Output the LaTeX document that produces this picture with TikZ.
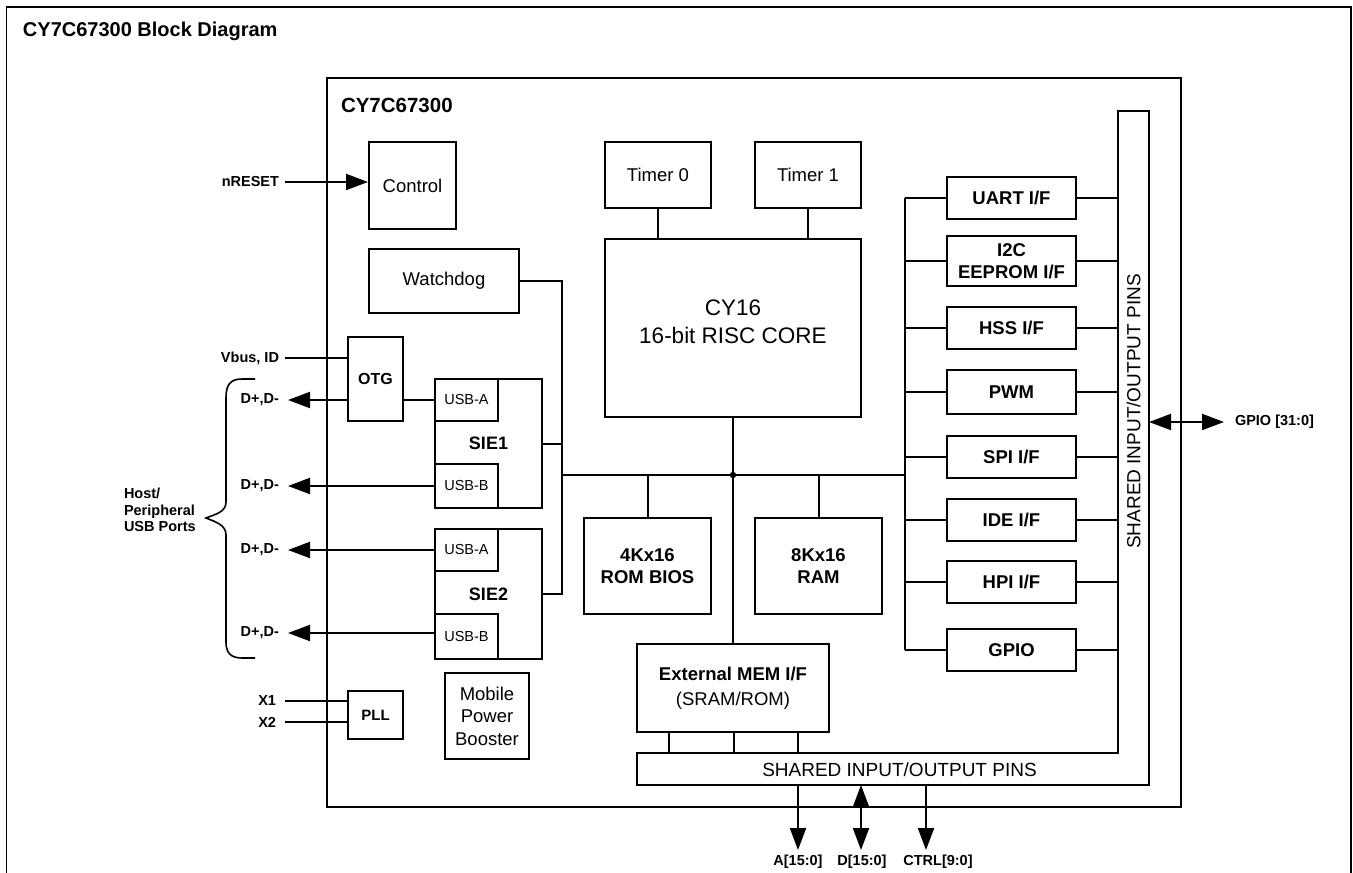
\documentclass[tikz,border=0pt]{standalone}
\usepackage{fontspec}
\setmainfont{Liberation Sans}
\usetikzlibrary{positioning, arrows.meta, calc}

\begin{document}
\begin{tikzpicture}[
    x=1pt, y=-1pt,
    line width=2pt,
    blk/.style={draw=black, line width=2pt, inner sep=0pt, align=center, font=\fontsize{18.5}{22.5}\selectfont},
    bblk/.style={blk, font=\fontsize{18.5}{22.5}\selectfont\bfseries},
    iface/.style={bblk, minimum width=129pt, minimum height=42pt},
    usb/.style={blk, minimum width=63pt, font=\fontsize{14.5}{17}\selectfont},
    pin/.style={inner sep=0pt, font=\fontsize{14.5}{16.5}\selectfont\bfseries},
    sig/.style={-{Triangle[length=22pt, width=16pt]}},
    dsig/.style={{Triangle[length=22pt, width=16pt]}-{Triangle[length=22pt, width=16pt]}}
]
\useasboundingbox (0,0) rectangle (1353,873);

% --- frame, title and chip outline ---
\draw[line width=1.6pt] (6.5,880) -- (6.5,7) -- (1351,7) -- (1351,880);
\node[anchor=base west, inner sep=0pt, font=\fontsize{20}{24}\selectfont\bfseries] (title) at (22,36.5) {CY7C67300 Block Diagram};
\draw[line width=2.4pt] (327,78) rectangle (1181,807);
\node[anchor=base west, inner sep=0pt, font=\fontsize{20.5}{24}\selectfont\bfseries] (chiplbl) at (340,112.5) {CY7C67300};

% --- left column ---
\node[blk, minimum width=87pt, minimum height=87pt] (ctrl) at (412.5,185.5) {Control};
\node[blk, minimum width=150pt, minimum height=64pt] (wdog) at (444,281) {Watchdog};
\node[bblk, minimum width=55pt, minimum height=84pt, font=\fontsize{16}{19}\selectfont\bfseries] (otg) at (375.5,379) {OTG};
\node[bblk, minimum width=55pt, minimum height=48pt, font=\fontsize{15}{18}\selectfont\bfseries] (pll) at (375.5,715) {PLL};
\node[blk, minimum width=84pt, minimum height=86pt] (boost) at (487,716) {Mobile\\Power\\Booster};

% serial interface engines
\node[bblk, minimum width=107pt, minimum height=129pt, font=\fontsize{18}{22}\selectfont\bfseries] (sie1) at (488.5,443.5) {SIE1};
\node[usb, minimum height=42pt] (usba1) at (466.5,400) {USB-A};
\node[usb, minimum height=44pt] (usbb1) at (466.5,486) {USB-B};
\node[bblk, minimum width=107pt, minimum height=130pt, font=\fontsize{18}{22}\selectfont\bfseries] (sie2) at (488.5,594) {SIE2};
\node[usb, minimum height=42pt] (usba2) at (466.5,550) {USB-A};
\node[usb, minimum height=45pt] (usbb2) at (466.5,636.5) {USB-B};

% --- core and memories ---
\node[blk, minimum width=106pt, minimum height=66pt] (tmr0) at (658,175) {Timer 0};
\node[blk, minimum width=106pt, minimum height=66pt] (tmr1) at (808,175) {Timer 1};
\node[blk, minimum width=256pt, minimum height=178pt] (cpu) at (733,328) {};
\node[align=center, inner sep=0pt, font=\fontsize{22.5}{28}\selectfont] (cpulbl) at (733,322) {CY16\\16-bit RISC CORE};
\node[bblk, minimum width=127pt, minimum height=96pt] (rom) at (647.5,566) {4Kx16\\ROM BIOS};
\node[bblk, minimum width=127pt, minimum height=96pt] (ram) at (818.5,566) {8Kx16\\RAM};
\node[blk, minimum width=192pt, minimum height=88pt, font=\fontsize{18.5}{25}\selectfont] (mem) at (733,688) {\textbf{External MEM I/F}\\(SRAM/ROM)};

% --- peripheral interfaces ---
\node[iface] (uart) at (1011.5,198) {UART I/F};
\node[iface, minimum height=50pt] (i2c) at (1011.5,261) {I2C\\EEPROM I/F};
\node[iface] (hss) at (1011.5,328) {HSS I/F};
\node[iface, minimum height=44pt] (pwm) at (1011.5,392) {PWM};
\node[iface] (spi) at (1011.5,457) {SPI I/F};
\node[iface] (ide) at (1011.5,520) {IDE I/F};
\node[iface] (hpi) at (1011.5,582) {HPI I/F};
\node[iface] (gpio) at (1011.5,650) {GPIO};

% --- shared pins (L-shaped bar) ---
\coordinate (pint) at (637,753);
\coordinate (pinb) at (637,785);
\coordinate (pinl) at (1118,111);
\coordinate (pinr) at (1149,111);
\draw (pint) -- (pint -| pinl) -- (pinl) -- (pinr) -- (pinr |- pinb) -- (pinb) -- cycle;
\node[inner sep=0pt, font=\fontsize{19}{22}\selectfont] (pinstxt) at (899.5,770) {SHARED INPUT/OUTPUT PINS};
\node[inner sep=0pt, rotate=90, font=\fontsize{19}{22}\selectfont] (pinstxt2) at (1133.5,411.5) {SHARED INPUT/OUTPUT PINS};

% --- outside labels ---
\node[pin, anchor=east] (nrst) at (280,182) {nRESET};
\node[pin, anchor=east] (vbus) at (280,358) {Vbus, ID};
\node[pin, anchor=east] (dp1) at (280,400) {D+,D-};
\node[pin, anchor=east] (dp2) at (280,486) {D+,D-};
\node[pin, anchor=east] (dp3) at (280,550) {D+,D-};
\node[pin, anchor=east] (dp4) at (280,633) {D+,D-};
\node[pin, anchor=east] (x1) at (277,701) {X1};
\node[pin, anchor=east] (x2) at (277,722) {X2};
\node[pin, anchor=west, align=left, font=\fontsize{14.5}{16.5}\selectfont\bfseries] (host) at (123,510) {Host/\\Peripheral\\USB Ports};
\node[pin, anchor=west] (gpiolbl) at (1234,422) {GPIO [31:0]};
\node[pin] (alab) at (798,862) {A[15:0]};
\node[pin] (dlab) at (862,862) {D[15:0]};
\node[pin] (clab) at (938,862) {CTRL[9:0]};

% brace for the usb ports
\draw[line width=1.6pt] (255,379) -- (242,379) .. controls (230,379) and (226,385) .. (226,398)
    -- (226,502) .. controls (226,512) and (216,514) .. (206,518)
    .. controls (216,522) and (226,525) .. (226,535)
    -- (226,642) .. controls (226,652) and (230,658) .. (242,658) -- (255,658);

% --- connections: left side ---
\draw[sig] ([xshift=5pt]nrst.east) -- (nrst.east -| ctrl.west);
\draw (vbus.east) ++(5,0) -- (vbus.east -| otg.west);
\draw (x1.east) ++(8,0) -- (x1.east -| pll.west);
\draw (x2.east) ++(8,0) -- (x2.east -| pll.west);
\draw[sig] (dp1.east -| otg.west) -- ([xshift=8pt]dp1.east);
\draw[sig] (dp2.east -| usbb1.west) -- ([xshift=8pt]dp2.east);
\draw[sig] (dp3.east -| usba2.west) -- ([xshift=8pt]dp3.east);
\draw[sig] (dp4.east -| usbb2.west) -- ([xshift=8pt]dp4.east);
\draw (otg.east |- usba1.west) -- (usba1.west);

% --- internal bus ---
\coordinate (lbus) at (562,475);
\coordinate (rbus) at (905,475);
\draw (wdog.east) -| (lbus |- sie2.east) -- (sie2.east);
\draw (sie1.east) -- (lbus |- sie1.east);
\draw (lbus) -- (rbus);
\draw (rbus |- uart.west) -- (rbus |- gpio.west);
\draw (cpu.south) -- (mem.north);
\fill (cpu.south |- lbus) circle (3.2pt);
\draw (tmr0.south) -- (tmr0.south |- cpu.north);
\draw (tmr1.south) -- (tmr1.south |- cpu.north);
\draw (rom.north) -- (rom.north |- lbus);
\draw (ram.north) -- (ram.north |- lbus);

\foreach \b in {uart,i2c,hss,pwm,spi,ide,hpi,gpio} {
    \draw (rbus |- \b.west) -- (\b.west);
    \draw (\b.east) -- (pinl |- \b.east);
}

% --- to the shared pins ---
\foreach \dx in {-64,1,65}
    \draw ([xshift=\dx pt]mem.south) -- ([xshift=\dx pt]mem.south |- pint);
\draw[dsig] (pinr |- gpiolbl.west) -- ([xshift=-10pt]gpiolbl.west);
\coordinate (abot) at (798,850);
\coordinate (dbot) at (861,850);
\coordinate (cbot) at (926,850);
\draw[sig] (abot |- pinb) -- (abot);
\draw[dsig] (dbot |- pinb) -- (dbot);
\draw[sig] (cbot |- pinb) -- (cbot);

\end{tikzpicture}
\end{document}
